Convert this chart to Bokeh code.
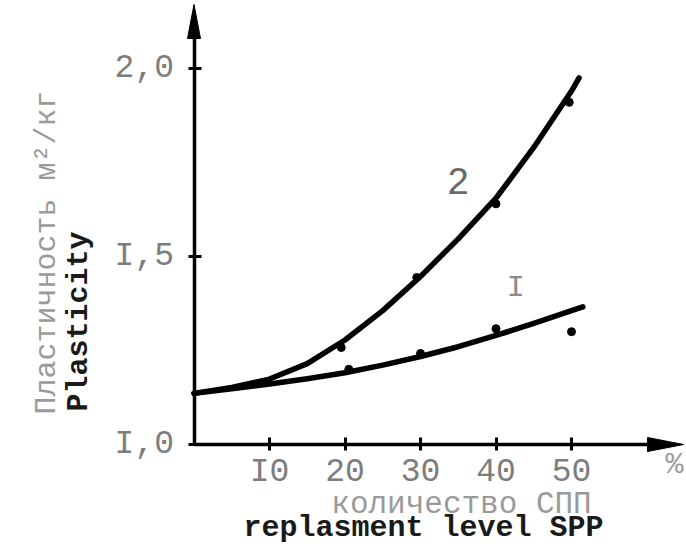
from bokeh.plotting import figure
from bokeh.models import Label, FixedTicker, Range1d
from bokeh.embed import file_html
from bokeh.resources import INLINE
import math

# ---- data ----
curve2_x = [0, 5, 10, 15, 20, 25, 30, 35, 40, 45, 50, 51]
curve2_y = [1.136, 1.152, 1.174, 1.215, 1.278, 1.356, 1.447, 1.547, 1.655, 1.79, 1.94, 1.975]
curve1_x = [0, 5, 10, 15, 20, 25, 30, 35, 40, 45, 50, 51.5]
curve1_y = [1.136, 1.148, 1.161, 1.175, 1.191, 1.211, 1.234, 1.26, 1.29, 1.322, 1.356, 1.366]
pts2_x = [19.5, 29.5, 40, 49.7]
pts2_y = [1.258, 1.444, 1.64, 1.91]
pts1_x = [20.5, 30, 40, 50]
pts1_y = [1.20, 1.242, 1.308, 1.30]
x_ticks = [10, 20, 30, 40, 50]
x_tick_labels = ["I0", "20", "30", "40", "50"]
y_ticks = [1.5, 2.0, 1.0]
y_tick_labels = ["I,5", "2,0", "I,0"]

MONO = "Liberation Mono"

W, H = 684, 554
X_PX = 7.55      # pixels per x unit
Y_PX = 376.0     # pixels per y unit
X0_PX = 193.5    # canvas position of x = 0
Y1_PX = 444.0    # canvas position of y = 1.0

x_lo = -X0_PX / X_PX
x_hi = (W - X0_PX) / X_PX
y_hi = 1 + Y1_PX / Y_PX
y_lo = 1 - (H - Y1_PX) / Y_PX

x_axis_end = (683 - X0_PX) / X_PX
y_axis_end = 1 + (Y1_PX - 4) / Y_PX


def dx(px):
    return (px - X0_PX) / X_PX


def dy(py):
    return 1 + (Y1_PX - py) / Y_PX


p = figure(width=W, height=H, output_backend="svg", toolbar_location=None,
           x_range=Range1d(x_lo, x_hi), y_range=Range1d(y_lo, y_hi),
           min_border=0)
p.outline_line_color = None
p.grid.visible = False
p.background_fill_color = "white"
p.border_fill_color = "white"

xa = p.xaxis[0]
ya = p.yaxis[0]
xa.fixed_location = 1.0
ya.fixed_location = 0.0
xa.bounds = (0, x_axis_end - 1.0)
ya.bounds = (1.0, y_axis_end - 0.03)

for ax in (xa, ya):
    ax.axis_line_width = 3.5
    ax.axis_line_color = "black"
    ax.major_tick_line_width = 3
    ax.major_tick_line_color = "black"
    ax.major_tick_in = 7
    ax.major_tick_out = 6
    ax.minor_tick_line_color = None
    ax.major_label_text_font = MONO
    ax.major_label_text_color = "#7d7d7d"
    ax.major_label_text_font_size = "33px"

xa.ticker = FixedTicker(ticks=x_ticks)
xa.major_label_overrides = dict(zip(x_ticks, x_tick_labels))
xa.major_label_standoff = 3
ya.ticker = FixedTicker(ticks=y_ticks)
ya.major_label_overrides = dict(zip(y_ticks, y_tick_labels))
ya.major_label_standoff = 14

# axis arrow heads (narrow filled triangles at the axis ends)
hx = 6.5 / X_PX
hy = 34 / Y_PX
p.patch([-hx, 0, hx], [y_axis_end - hy, y_axis_end, y_axis_end - hy],
        fill_color="black", line_color="black", line_width=1)
hx2 = 36 / X_PX
hy2 = 7 / Y_PX
p.patch([x_axis_end - hx2, x_axis_end, x_axis_end - hx2], [1 + hy2, 1.0, 1 - hy2],
        fill_color="black", line_color="black", line_width=1)

# curves
p.line(curve2_x, curve2_y, line_width=5.5, line_color="black", line_join="round", line_cap="round")
p.line(curve1_x, curve1_y, line_width=5.5, line_color="black", line_join="round", line_cap="round")
p.scatter(pts2_x, pts2_y, size=8, color="black")
p.scatter(pts1_x, pts1_y, size=8, color="black")

# curve labels
p.add_layout(Label(x=35.0, y=1.70, text="2", text_font=MONO, text_font_size="38px",
                   text_color="#6a6a6a", text_align="center", text_baseline="middle"))
p.add_layout(Label(x=42.6, y=1.415, text="I", text_font=MONO, text_font_size="30px",
                   text_color="#8a8a8a", text_align="center", text_baseline="middle"))

# axis titles
p.add_layout(Label(x=dx(46), y=dy(252),
                   text="Пластичность м²/кг", text_font=MONO,
                   text_font_size="30px", text_color="#9a9a9a", angle=math.pi / 2,
                   text_align="center", text_baseline="middle"))
p.add_layout(Label(x=dx(78), y=dy(321),
                   text="Plasticity", text_font=MONO,
                   text_font_size="30px", text_font_style="bold", text_color="#1a1a1a",
                   angle=math.pi / 2, text_align="center", text_baseline="middle"))
p.add_layout(Label(x=dx(461), y=dy(504),
                   text="количество СПП", text_font=MONO,
                   text_font_size="31px", text_color="#9a9a9a",
                   text_align="center", text_baseline="middle"))
p.add_layout(Label(x=dx(423), y=dy(527),
                   text="replasment level SPP", text_font=MONO,
                   text_font_size="30px", text_font_style="bold", text_color="#1a1a1a",
                   text_align="center", text_baseline="middle"))
p.add_layout(Label(x=dx(665), y=dy(464), text="%",
                   text_font=MONO, text_font_size="30px", text_color="#9a9a9a",
                   text_align="left", text_baseline="middle"))

open("out.html", "w").write(file_html(p, INLINE))
